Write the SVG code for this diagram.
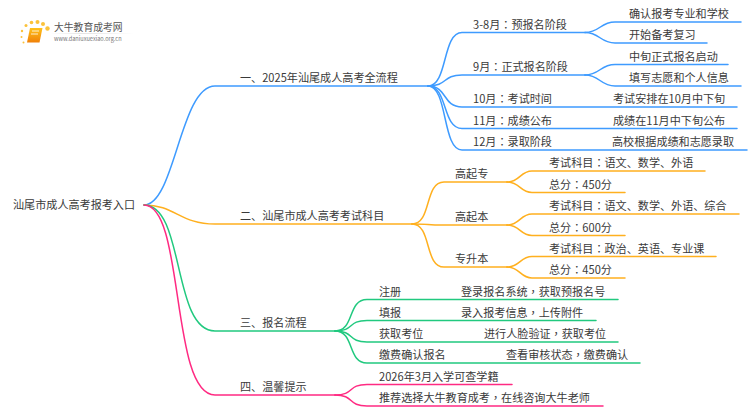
<svg xmlns="http://www.w3.org/2000/svg" width="750" height="410" viewBox="0 0 750 410">
<style>
text{font-family:"Noto Sans CJK SC","Noto Sans",sans-serif;font-size:11.1px;fill:#3a3a3a}
.t{font-family:"Noto Sans CJK TC","Noto Sans",sans-serif}
.c{fill:none;stroke-width:1.5;stroke-linecap:round}
.b{stroke:#3e9bff}.o{stroke:#ffb01f}.g{stroke:#21c97f}.p{stroke:#ff2a82}
.l{font-size:9.800px;fill:#555}.u{font-size:5.600px;fill:#777}
</style>
<defs><linearGradient id="bk" x1="0" y1="0" x2="0" y2="1"><stop offset="0" stop-color="#ffc21a"/><stop offset="1" stop-color="#f08008"/></linearGradient>
<linearGradient id="rl" x1="0" y1="0" x2="1" y2="0"><stop offset="0" stop-color="#ddd" stop-opacity="0"/><stop offset=".4" stop-color="#ddd"/><stop offset="1" stop-color="#ddd" stop-opacity="0"/></linearGradient></defs>
<g id="logo">
<g fill="#fbc23a"><circle cx="22" cy="31" r="1.2"/><circle cx="21.500" cy="37" r="1"/><circle cx="23.500" cy="42.500" r="1"/><circle cx="26" cy="25.500" r="1.500"/><circle cx="31.500" cy="22.500" r="1.800"/><circle cx="37.500" cy="22" r="2"/><circle cx="43" cy="24" r="2"/><circle cx="47.500" cy="28.500" r="2.200"/></g>
<path d="M30 28h12.500l-3 14.500h-12.500z" fill="url(#bk)"/><path d="M32 31h7M31 34h7" stroke="#fff" stroke-width=".8"/>
<text class="l" x="54" y="30.500">大牛教育成考网</text>
<rect x="50" y="33" width="84" height=".8" fill="url(#rl)"/>
<text class="u" x="54" y="40.500">www.daniuxuexiao.org.cn</text>
</g>
<g id="connectors">
<path class="c b" d="M144 205C175 205 180 86 215 86H428"/>
<path class="c o" d="M144 205C175 205 180 224 215 224H412"/>
<path class="c g" d="M144 205C185 205 172 331 215 331H335"/>
<path class="c p" d="M144 205C185 205 170 395 215 395H335"/>
<path class="c b" d="M428 86C448 86 442 32.500 462 32.500H585"/>
<path class="c b" d="M428 86C448 86 442 75 462 75H585"/>
<path class="c b" d="M428 86C448 86 442 107 462 107H737"/>
<path class="c b" d="M428 86C448 86 442 128.500 462 128.500H737"/>
<path class="c b" d="M428 86C448 86 442 150 462 150H747"/>
<path class="c b" d="M585 32.500C600 32.500 600 22 615 22H741"/>
<path class="c b" d="M585 32.500C600 32.500 600 43 615 43H707"/>
<path class="c b" d="M585 75C600 75 600 64.500 615 64.500H728"/>
<path class="c b" d="M585 75C600 75 600 86 615 86H741"/>
<path class="c o" d="M412 224C432 224 424 182 444 182H507"/>
<path class="c o" d="M412 224C432 224 424 225 444 225H507"/>
<path class="c o" d="M412 224C432 224 424 267 444 267H507"/>
<path class="c o" d="M507 182C520 182 520 171 532 171H705"/>
<path class="c o" d="M507 182C520 182 520 192.500 532 192.500H625"/>
<path class="c o" d="M507 225C520 225 520 214 532 214H739"/>
<path class="c o" d="M507 225C520 225 520 235.500 532 235.500H625"/>
<path class="c o" d="M507 267C520 267 520 256.500 532 256.500H716"/>
<path class="c o" d="M507 267C520 267 520 278 532 278H625"/>
<path class="c g" d="M335 331C355 331 347 299.500 367 299.500H618"/>
<path class="c g" d="M335 331C355 331 347 320.500 367 320.500H596"/>
<path class="c g" d="M335 331C355 331 347 342 367 342H618"/>
<path class="c g" d="M335 331C355 331 347 363 367 363H640"/>
<path class="c p" d="M335 395C355 395 347 384.500 367 384.500H512"/>
<path class="c p" d="M335 395C355 395 347 406 367 406H603"/>
</g>
<g id="root"><text x="13" y="209">汕尾市成人高考报考入口</text></g>
<g id="s1"><text x="240" y="82">一、2025年汕尾成人高考全流程</text></g>
<g id="s1a"><text x="473" y="28.500">3-8月<tspan class="t">：</tspan>预报名阶段</text></g>
<g id="s1a1"><text x="629" y="18">确认报考专业和学校</text></g>
<g id="s1a2"><text x="629" y="39">开始备考复习</text></g>
<g id="s1b"><text x="473" y="71">9月<tspan class="t">：</tspan>正式报名阶段</text></g>
<g id="s1b1"><text x="629" y="60.500">中旬正式报名启动</text></g>
<g id="s1b2"><text x="629" y="82">填写志愿和个人信息</text></g>
<g id="s1c"><text x="473" y="103">10月<tspan class="t">：</tspan>考试时间</text></g>
<g id="s1c1"><text x="613" y="103">考试安排在10月中下旬</text></g>
<g id="s1d"><text x="473" y="124.500">11月<tspan class="t">：</tspan>成绩公布</text></g>
<g id="s1d1"><text x="613" y="124.500">成绩在11月中下旬公布</text></g>
<g id="s1e"><text x="473" y="146">12月<tspan class="t">：</tspan>录取阶段</text></g>
<g id="s1e1"><text x="612" y="146">高校根据成绩和志愿录取</text></g>
<g id="s2"><text x="240" y="220">二、汕尾市成人高考考试科目</text></g>
<g id="s2a"><text x="455" y="178">高起专</text></g>
<g id="s2a1"><text x="549" y="167">考试科目<tspan class="t">：</tspan>语文、数学、外语</text></g>
<g id="s2a2"><text x="549" y="188.500">总分<tspan class="t">：</tspan>450分</text></g>
<g id="s2b"><text x="455" y="221">高起本</text></g>
<g id="s2b1"><text x="549" y="210">考试科目<tspan class="t">：</tspan>语文、数学、外语、综合</text></g>
<g id="s2b2"><text x="549" y="231.500">总分<tspan class="t">：</tspan>600分</text></g>
<g id="s2c"><text x="455" y="263">专升本</text></g>
<g id="s2c1"><text x="549" y="252.500">考试科目<tspan class="t">：</tspan>政治、英语、专业课</text></g>
<g id="s2c2"><text x="549" y="274">总分<tspan class="t">：</tspan>450分</text></g>
<g id="s3"><text x="240" y="327">三、报名流程</text></g>
<g id="s3a"><text x="379" y="295.500">注册</text></g>
<g id="s3a1"><text x="461" y="295.500">登录报名系统<tspan class="t">，</tspan>获取预报名号</text></g>
<g id="s3b"><text x="379" y="316.500">填报</text></g>
<g id="s3b1"><text x="461" y="316.500">录入报考信息<tspan class="t">，</tspan>上传附件</text></g>
<g id="s3c"><text x="379" y="338">获取考位</text></g>
<g id="s3c1"><text x="484" y="338">进行人脸验证<tspan class="t">，</tspan>获取考位</text></g>
<g id="s3d"><text x="379" y="359">缴费确认报名</text></g>
<g id="s3d1"><text x="506" y="359">查看审核状态<tspan class="t">，</tspan>缴费确认</text></g>
<g id="s4"><text x="240" y="391">四、温馨提示</text></g>
<g id="s4a"><text x="379" y="380.500">2026年3月入学可查学籍</text></g>
<g id="s4b"><text x="379" y="402">推荐选择大牛教育成考<tspan class="t">，</tspan>在线咨询大牛老师</text></g>
</svg>
